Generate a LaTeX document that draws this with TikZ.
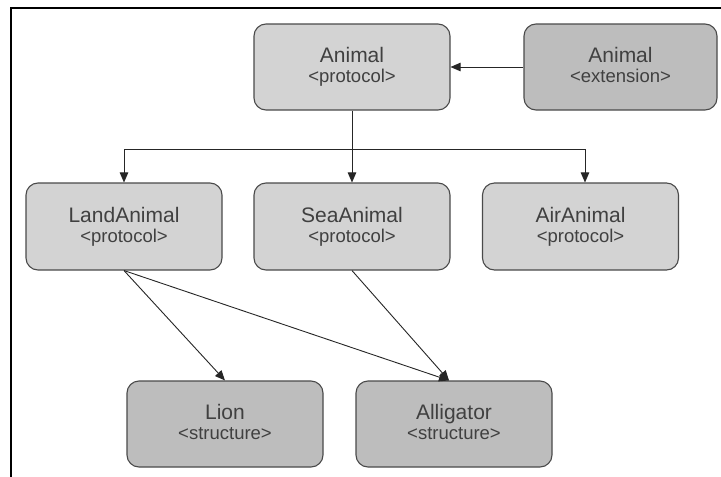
\documentclass[tikz,border=0pt]{standalone}
\usepackage{fontspec}
\setmainfont{Liberation Sans}
\usetikzlibrary{arrows.meta}
\definecolor{protofill}{HTML}{D3D3D3}
\definecolor{darkfill}{HTML}{BDBDBD}
\definecolor{boxline}{HTML}{4A4A4A}
\definecolor{txt}{HTML}{404040}
\tikzset{
  boxbase/.style={draw=boxline, line width=1.1pt, rounded corners=12pt, minimum width=196pt, minimum height=86pt, inner sep=0pt},
  protobox/.style={boxbase, fill=protofill},
  darkbox/.style={boxbase, fill=darkfill},
  titletext/.style={anchor=base, inner sep=0pt, text=txt, font=\fontsize{21}{21}\selectfont},
  subtext/.style={anchor=base, inner sep=0pt, text=txt, font=\fontsize{18.5}{18.5}\selectfont},
  arr/.style={draw=black!85, line width=0.9pt, -{Triangle[length=10pt,width=8.5pt]}},
}
\begin{document}
\begin{tikzpicture}[x=1pt,y=-1pt]
\useasboundingbox (0,0) rectangle (721,477);
\fill[white] (0,0) rectangle (721,477);
% frame
\draw[line width=2.6pt, black] (11,477) -- (11,8) -- (721,8);
% boxes
\node[protobox] (anp) at (352,67) {};
\node[darkbox, minimum width=193pt] (ext) at (620.5,67) {};
\node[protobox, minimum height=87pt] (land) at (124,226.5) {};
\node[protobox, minimum height=87pt] (sea) at (352,226.5) {};
\node[protobox, minimum height=87pt] (air) at (580.5,226.5) {};
\node[darkbox] (lion) at (225,424) {};
\node[darkbox] (alli) at (454,424) {};
% texts
\node[titletext] (anpt) at ([yshift=4.5pt]anp.center) {Animal};
\node[subtext] (anps) at ([yshift=-15.5pt]anp.center) {<protocol>};
\node[titletext] (extt) at ([yshift=4.5pt]ext.center) {Animal};
\node[subtext] (exts) at ([yshift=-15.5pt]ext.center) {<extension>};
\node[titletext] (landt) at ([yshift=4.5pt]land.center) {LandAnimal};
\node[subtext] (lands) at ([yshift=-15.5pt]land.center) {<protocol>};
\node[titletext] (seat) at ([yshift=4.5pt]sea.center) {SeaAnimal};
\node[subtext] (seas) at ([yshift=-15.5pt]sea.center) {<protocol>};
\node[titletext] (airt) at ([yshift=4.5pt]air.center) {AirAnimal};
\node[subtext] (airs) at ([yshift=-15.5pt]air.center) {<protocol>};
\node[titletext] (liont) at ([yshift=4.5pt]lion.center) {Lion};
\node[subtext] (lions) at ([yshift=-15.5pt]lion.center) {<structure>};
\node[titletext] (allit) at ([yshift=4.5pt]alli.center) {Alligator};
\node[subtext] (allis) at ([yshift=-15.5pt]alli.center) {<structure>};
% connectors
\draw[arr] (ext.west) -- (anp.east);
\coordinate (bus) at (352,149);
\draw[arr] (anp.south) -- (sea.north);
\draw[arr] (bus) -| (land.north);
\draw[arr] (bus) -| ([xshift=4.5pt]air.north);
\coordinate (allitip) at ([xshift=-5pt]alli.north);
\draw[arr] (land.south) -- (lion.north);
\draw[arr] (land.south) -- (allitip);
\draw[arr] (sea.south) -- (allitip);
\end{tikzpicture}
\end{document}
